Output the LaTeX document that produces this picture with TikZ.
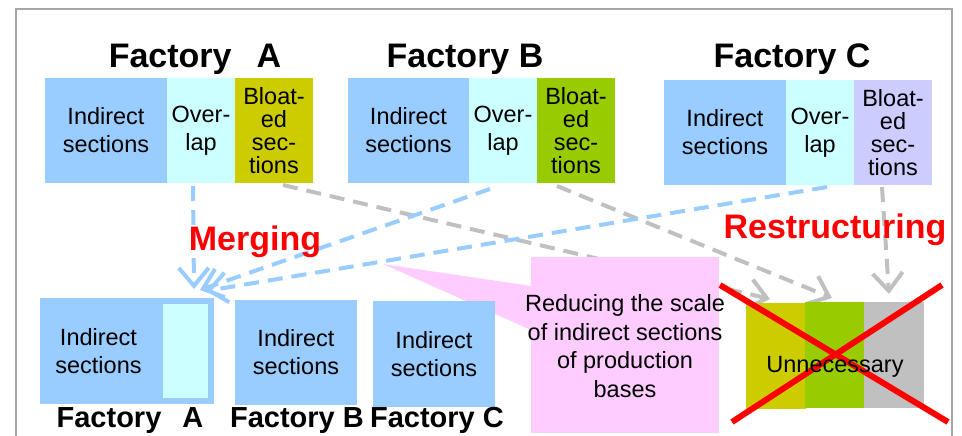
\documentclass[tikz,border=0pt]{standalone}
\usepackage{fontspec}
\setmainfont{Liberation Sans}
\usetikzlibrary{arrows.meta,calc}
\definecolor{cblue}{HTML}{99CCFF}
\definecolor{ccyan}{HTML}{CCFFFF}
\definecolor{colive}{HTML}{CCCC00}
\definecolor{cgreen}{HTML}{99CC00}
\definecolor{clav}{HTML}{CCCCFF}
\definecolor{cgray}{HTML}{C0C0C0}
\definecolor{cpink}{HTML}{FFCCFF}
\definecolor{cframe}{HTML}{A6A6A6}
\definecolor{cred}{HTML}{FF0000}
\begin{document}
\begin{tikzpicture}[x=1pt,y=-1pt,
  box/.style={anchor=north west, inner sep=0pt, outer sep=0pt, align=center,
    minimum height=105pt, font=\fontsize{23.5}{28}\selectfont},
  bloat/.style={font=\fontsize{23.5}{23}\selectfont},
  title/.style={anchor=base, inner sep=0pt, font=\bfseries\fontsize{34}{40}\selectfont},
  sublabel/.style={anchor=base, inner sep=0pt, font=\bfseries\fontsize{29}{34}\selectfont},
  redlabel/.style={anchor=base, inner sep=0pt, text=cred, font=\bfseries\fontsize{34}{40}\selectfont},
  bluedash/.style={draw=cblue, line width=4pt, dash pattern=on 15pt off 9pt,
    -{Straight Barb[length=18pt,width=30pt,line width=4pt]}},
  graydash/.style={draw=cgray, line width=4pt, dash pattern=on 15pt off 9pt,
    -{Straight Barb[length=18pt,width=30pt,line width=4pt]}},
  redx/.style={draw=cred, line width=6pt}
  ]
\useasboundingbox (0,0) rectangle (962,436);
% frame
\draw[cframe, line width=2pt] (16,460) -- (16,9) -- (952,9) -- (952,460);

% titles
\node[title] (tA) at (195,67) {Factory\hspace{25pt}A};
\node[title] (tB) at (465,68) {Factory B};
\node[title] (tC) at (792,68) {Factory C};

% top row
\node[box, fill=cblue, minimum width=122pt] (aI) at (45,78) {Indirect\\sections};
\node[box, fill=ccyan, minimum width=68pt] (aO) at (167,78) {Over-\\lap};
\node[box, bloat, fill=colive, minimum width=78pt] (aB) at (235,78) {Bloat-\\ed\\sec-\\tions};

\node[box, fill=cblue, minimum width=121pt] (bI) at (348,78) {Indirect\\sections};
\node[box, fill=ccyan, minimum width=68pt] (bO) at (469,78) {Over-\\lap};
\node[box, bloat, fill=cgreen, minimum width=78pt] (bB) at (537,78) {Bloat-\\ed\\sec-\\tions};

\node[box, fill=cblue, minimum width=122pt] (cI) at (664,80) {Indirect\\sections};
\node[box, fill=ccyan, minimum width=68pt] (cO) at (786,80) {Over-\\lap};
\node[box, bloat, fill=clav, minimum width=78pt] (cB) at (854,80) {Bloat-\\ed\\sec-\\tions};

% arrow tip coordinates
\coordinate (t1) at (194,289);
\coordinate (t2) at (200,290);
\coordinate (t3) at (206,291);
\coordinate (g1) at (770,299);
\coordinate (g2) at (832,298);
\coordinate (g3) at (889,294);

% gray dashed connectors
\draw[graydash] ($(aB.south)+(9,2)$) -- (g1);
\draw[graydash] ($(bB.south)+(-19,3)$) -- (g2);
\draw[graydash] ($(cB.south)+(-11,2)$) -- (g3);

% blue dashed connectors
\draw[bluedash] ($(aO.south)+(-8,3)$) -- (t1);
\draw[bluedash] ($(bO.south)+(-13,6)$) -- (t2);
\draw[bluedash] ($(cO.south)+(7,2)$) -- (t3);

% pink callout
\node[box, fill=cpink, minimum width=188pt, minimum height=176pt] (pk) at (531,257) {};
\coordinate (wtip) at (383,264);
\fill[cpink] (wtip) -- ($(pk.north west)+(0,29)$) -- ($(pk.north west)+(0,73)$) -- cycle;
\node[align=center, inner sep=0pt, font=\fontsize{23.5}{28.5}\selectfont] (pkt) at ($(pk.center)+(0,1)$)
  {Reducing the scale\\of indirect sections\\of production\\bases};

% bottom row
\node[box, fill=cblue, minimum width=117pt, minimum height=106pt] (mA) at (40,298) {Indirect\\sections};
\node[box, fill=ccyan, draw=cblue, line width=6pt, minimum width=51pt, minimum height=100pt] (mO) at (160,301) {};
\node[box, fill=cblue, minimum width=122pt] (bI2) at (235,300) {Indirect\\sections};
\node[box, fill=cblue, minimum width=122pt, minimum height=106pt] (cI2) at (373,301) {Indirect\\sections};

\node[sublabel] (lA) at (130,427) {Factory\hspace{21pt}A};
\node[sublabel] (lB) at (297,427) {Factory B};
\node[sublabel] (lC) at (437,427) {Factory C};

% unnecessary
\node[box, fill=colive, minimum width=60pt, minimum height=106pt] (u1) at (746,303) {};
\node[box, fill=cgreen, minimum width=59pt, minimum height=106pt] (u2) at (805,302) {};
\node[box, fill=cgray, minimum width=60pt, minimum height=106pt] (u3) at (864,302) {};

% red X
\draw[redx] (720,285) -- (948,422);
\draw[redx] (732,422) -- (942,285);

\node[anchor=base, inner sep=0pt, font=\fontsize{23.5}{28}\selectfont] (un) at (835,372) {Unnecessary};

% red labels
\node[redlabel] (mg) at (255,250) {Merging};
\node[redlabel] (rs) at (835,238) {Restructuring};
\end{tikzpicture}
\end{document}
